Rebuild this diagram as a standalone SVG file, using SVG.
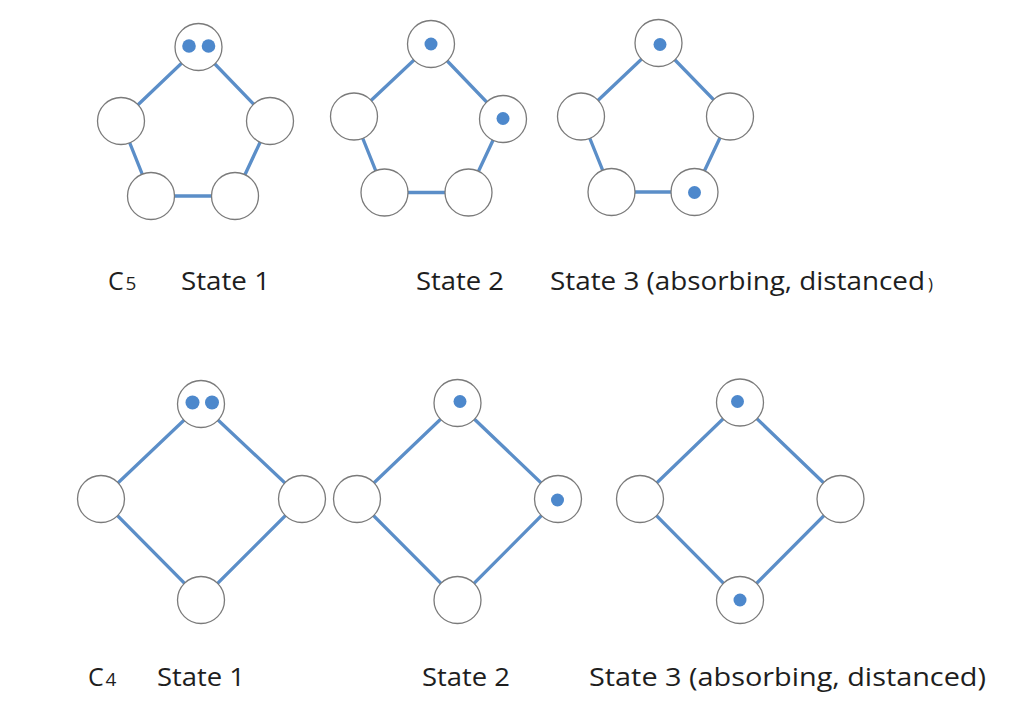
<svg xmlns="http://www.w3.org/2000/svg" width="1017" height="716" viewBox="0 0 1017 716">
<style>
.e{stroke:#5b8ec8;stroke-width:3.3;fill:none;stroke-linecap:round}
.n{fill:#fff;stroke:#7a7a7a;stroke-width:1.3}
.d{fill:#4d88cc}
.t{font-family:"Open Sans","Liberation Sans",sans-serif;font-size:25px;fill:#1e1e1e}
</style>
<rect width="1017" height="716" fill="#fff"/>
<g id="connectors">
<polygon class="e" points="198.5,47 270,121 235,196 151,196 121,121"/>
<polygon class="e" points="431,44 503,119 468.5,192.5 384.5,192.5 354,116.5"/>
<polygon class="e" points="658.5,43 730,116.5 694.5,192 611.5,192 581,116.5"/>
<polygon class="e" points="201,404 302,499 201,600 101,499"/>
<polygon class="e" points="457.5,403 558,499 457.5,600 357,499"/>
<polygon class="e" points="740,402.5 840.5,499 740,600 640,499"/>
</g>
<g id="c5-state1">
<g id="p1-top"><circle class="n" cx="198.5" cy="47" r="23.5"/><circle class="d" cx="189" cy="46" r="6.8"/><circle class="d" cx="208.5" cy="46" r="6.8"/></g>
<g id="p1-right"><circle class="n" cx="270" cy="121" r="23.5"/></g>
<g id="p1-br"><circle class="n" cx="235" cy="196" r="23.5"/></g>
<g id="p1-bl"><circle class="n" cx="151" cy="196" r="23.5"/></g>
<g id="p1-left"><circle class="n" cx="121" cy="121" r="23.5"/></g>
</g>
<g id="c5-state2">
<g id="p2-top"><circle class="n" cx="431" cy="44" r="23.5"/><circle class="d" cx="431" cy="44" r="6.5"/></g>
<g id="p2-right"><circle class="n" cx="503" cy="119" r="23.5"/><circle class="d" cx="503" cy="118.5" r="6.5"/></g>
<g id="p2-br"><circle class="n" cx="468.5" cy="192.5" r="23.5"/></g>
<g id="p2-bl"><circle class="n" cx="384.5" cy="192.5" r="23.5"/></g>
<g id="p2-left"><circle class="n" cx="354" cy="116.5" r="23.5"/></g>
</g>
<g id="c5-state3">
<g id="p3-top"><circle class="n" cx="658.5" cy="43" r="23.5"/><circle class="d" cx="660" cy="44.5" r="6.5"/></g>
<g id="p3-right"><circle class="n" cx="730" cy="116.5" r="23.5"/></g>
<g id="p3-br"><circle class="n" cx="694.5" cy="192" r="23.5"/><circle class="d" cx="694.5" cy="192.5" r="6.5"/></g>
<g id="p3-bl"><circle class="n" cx="611.5" cy="192" r="23.5"/></g>
<g id="p3-left"><circle class="n" cx="581" cy="116.5" r="23.5"/></g>
</g>
<g id="c4-state1">
<g id="d1-top"><circle class="n" cx="201" cy="404" r="23.5"/><circle class="d" cx="192.5" cy="402.5" r="7"/><circle class="d" cx="212" cy="402.5" r="7"/></g>
<g id="d1-right"><circle class="n" cx="302" cy="499" r="23.5"/></g>
<g id="d1-bottom"><circle class="n" cx="201" cy="600" r="23.5"/></g>
<g id="d1-left"><circle class="n" cx="101" cy="499" r="23.5"/></g>
</g>
<g id="c4-state2">
<g id="d2-top"><circle class="n" cx="457.5" cy="403" r="23.5"/><circle class="d" cx="460" cy="401.5" r="6.5"/></g>
<g id="d2-right"><circle class="n" cx="558" cy="499" r="23.5"/><circle class="d" cx="557.5" cy="500" r="6.5"/></g>
<g id="d2-bottom"><circle class="n" cx="457.5" cy="600" r="23.5"/></g>
<g id="d2-left"><circle class="n" cx="357" cy="499" r="23.5"/></g>
</g>
<g id="c4-state3">
<g id="d3-top"><circle class="n" cx="740" cy="402.5" r="23.5"/><circle class="d" cx="737.5" cy="401.5" r="6.5"/></g>
<g id="d3-right"><circle class="n" cx="840.5" cy="499" r="23.5"/></g>
<g id="d3-bottom"><circle class="n" cx="740" cy="600" r="23.5"/><circle class="d" cx="740" cy="600" r="6.5"/></g>
<g id="d3-left"><circle class="n" cx="640" cy="499" r="23.5"/></g>
</g>
<g id="labels">
<text class="t" x="108" y="290">C<tspan x="125.5" font-size="19">5</tspan></text>
<text class="t" x="181" y="290" textLength="89" lengthAdjust="spacingAndGlyphs">State 1</text>
<text class="t" x="416" y="290" textLength="88" lengthAdjust="spacingAndGlyphs">State 2</text>
<text class="t" x="550" y="290"><tspan textLength="375" lengthAdjust="spacingAndGlyphs">State 3 (absorbing, distanced</tspan><tspan x="928" font-size="17">)</tspan></text>
<text class="t" x="88" y="686">C<tspan x="105.5" font-size="19">4</tspan></text>
<text class="t" x="157" y="686" textLength="88" lengthAdjust="spacingAndGlyphs">State 1</text>
<text class="t" x="422" y="686" textLength="88" lengthAdjust="spacingAndGlyphs">State 2</text>
<text class="t" x="589" y="686" textLength="397" lengthAdjust="spacingAndGlyphs">State 3 (absorbing, distanced)</text>
</g>
</svg>
